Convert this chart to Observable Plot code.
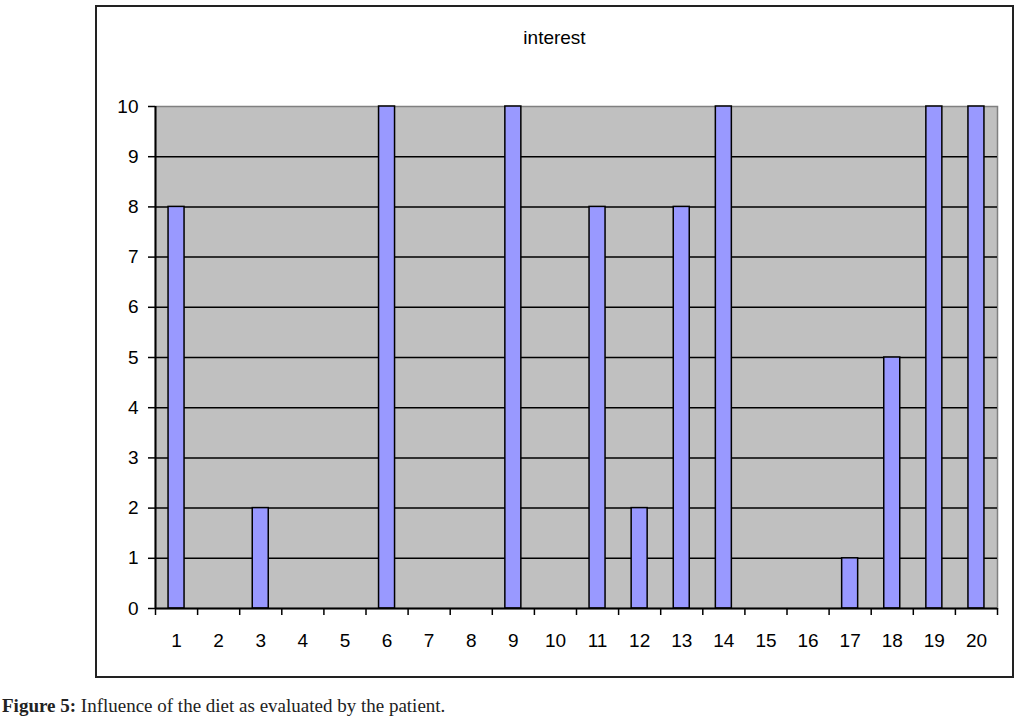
<!DOCTYPE html>
<html>
<head>
<meta charset="utf-8">
<script src="https://cdn.jsdelivr.net/npm/d3@7"></script>
<script src="https://cdn.jsdelivr.net/npm/@observablehq/plot@0.6"></script>
<style>
  body { margin: 0; background: #fff; position: relative; width: 1021px; height: 725px; overflow: hidden; }
  #box { position: absolute; left: 95px; top: 5px; width: 915px; height: 669px; border: 2px solid #222; }
  #title { position: absolute; left: 95px; width: 919px; top: 27px; text-align: center; font: 19px "Liberation Sans", Arial, sans-serif; color: #000; }
  #chart { position: absolute; left: 0; top: 0; }
  #caption { position: absolute; left: 2px; top: 695px; font: 19px "Liberation Serif", "DejaVu Serif", serif; color: #222; }
</style>
</head>
<body>
<div id="box"></div>
<div id="title">interest</div>
<div id="chart"></div>
<div id="caption"><b>Figure 5:</b> Influence of the diet as evaluated by the patient.</div>
<script>
const categories = [1,2,3,4,5,6,7,8,9,10,11,12,13,14,15,16,17,18,19,20];
const values =     [8,0,2,0,0,10,0,0,10,0,8,2,8,10,0,0,1,5,10,10];
const yTicks = [0,1,2,3,4,5,6,7,8,9,10];

const data = categories.map((c, i) => ({cat: c, value: values[i]}));
const boundaries = d3.range(0.5, 21, 1);
const half = 0.19;

const chart = Plot.plot({
  width: 1021,
  height: 680,
  marginLeft: 155,
  marginRight: 24,
  marginTop: 106,
  marginBottom: 72,
  style: {fontFamily: '"Liberation Sans", Arial, sans-serif', fontSize: "19px", color: "#000", background: "transparent"},
  x: {domain: [0.5, 20.5], axis: null},
  y: {domain: [0, 10], axis: null},
  marks: [
    Plot.frame({fill: "#c0c0c0", stroke: "#808080", strokeWidth: 1.5}),
    Plot.ruleY(yTicks.filter(t => t > 0 && t < 10), {stroke: "#000", strokeWidth: 1.5}),
    Plot.rectY(data.filter(d => d.value > 0), {x1: d => d.cat - half, x2: d => d.cat + half, y1: 0, y2: "value", fill: "#9999ff", stroke: "#000", strokeWidth: 1.5}),
    Plot.ruleY([0], {stroke: "#000", strokeWidth: 2}),
    Plot.ruleX([0.5], {stroke: "#000", strokeWidth: 2}),
    Plot.axisY({ticks: yTicks, tickSize: 7, tickPadding: 10, label: null, tickFormat: d => String(d), stroke: "#000", strokeWidth: 1.5}),
    Plot.axisX({ticks: boundaries, tickSize: 7, label: null, tickFormat: () => "", stroke: "#000", strokeWidth: 1.5}),
    Plot.axisX({ticks: categories, tickSize: 0, tickPadding: 25, label: null, tickFormat: d => String(d)})
  ]
});
document.getElementById("chart").appendChild(chart);
</script>
</body>
</html>
